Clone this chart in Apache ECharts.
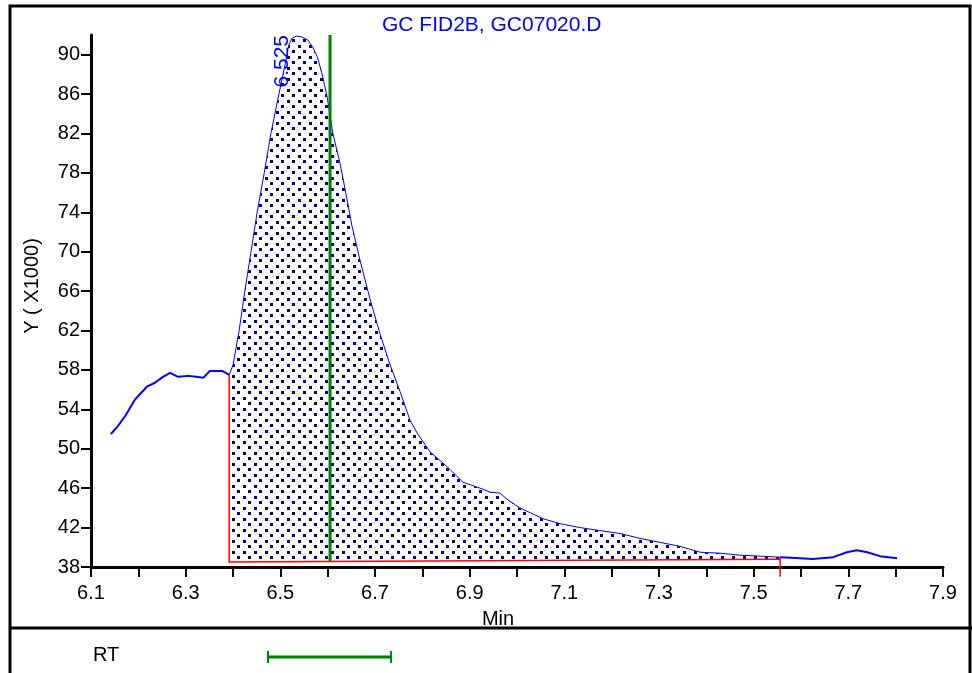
<!DOCTYPE html>
<html><head><meta charset="utf-8">
<script src="https://cdn.jsdelivr.net/npm/echarts@6/dist/echarts.min.js"></script>
<style>html,body{margin:0;padding:0;background:#fff}#c{width:972px;height:673px}</style>
</head><body><div id="c"></div>
<script>
// ---- data ----
const chartTitle = 'GC FID2B, GC07020.D';
const xName = 'Min';
const yName = 'Y ( X1000)';
const rtLabel = 'RT';
const peakLabel = '6.525';
const peakLabelTime = 6.525;
const xTickValues = [6.1,6.2,6.3,6.4,6.5,6.6,6.7,6.8,6.9,7.0,7.1,7.2,7.3,7.4,7.5,7.6,7.7,7.8,7.9];
const xLabelValues = [6.1,6.3,6.5,6.7,6.9,7.1,7.3,7.5,7.7,7.9];
const yLabelValues = [38,42,46,50,54,58,62,66,70,74,78,82,86,90];
const times = [6.142,6.155,6.172,6.193,6.218,6.235,6.252,6.267,6.284,6.305,6.322,6.337,6.351,6.377,6.392,
  6.400,6.413,6.425,6.438,6.451,6.466,6.480,6.497,6.510,6.518,6.525,6.535,6.545,6.558,6.568,6.578,6.588,6.599,
  6.611,6.626,6.637,6.651,6.668,6.690,6.711,6.732,6.753,6.774,6.789,6.816,6.852,6.886,6.922,6.943,6.964,6.981,
  7.006,7.055,7.091,7.133,7.175,7.218,7.260,7.302,7.344,7.387,7.429,7.471,7.514,7.556,7.598,7.625,7.668,7.697,
  7.718,7.740,7.767,7.803];
const signal = [51.5,52.2,53.3,55.0,56.3,56.7,57.3,57.7,57.3,57.4,57.3,57.2,57.9,57.9,57.5,
  58.5,62.0,66.0,70.0,74.0,78.0,82.0,86.0,89.0,91.0,91.7,91.9,91.8,91.5,90.8,89.8,88.1,85.7,
  82.0,79.0,76.3,72.7,69.2,65.1,61.6,58.5,55.8,52.9,51.6,49.7,48.2,46.6,46.0,45.6,45.5,44.8,
  44.0,42.9,42.4,42.0,41.7,41.4,40.9,40.5,40.1,39.5,39.4,39.2,39.1,39.0,38.9,38.8,39.0,39.5,
  39.7,39.5,39.1,38.9];
const integStart = 6.392, integEnd = 7.556;
const baselineStart = 38.5, baselineEnd = 38.78;
const endMarkBottom = 37.0;
const markerTime = 6.605;
const rtWindow = [6.474, 6.734];
const xMin = 6.1, xMax = 7.9, yMin = 38, yMax = 92;

// ---- helpers ----
const FONT = 'Liberation Sans, Arial, sans-serif';
const pairs = times.map((t, i) => [t, signal[i]]);
const eps = 1e-9;
const prePart = pairs.filter(p => p[0] <= integStart + eps);
const peakPart = pairs.filter(p => p[0] >= integStart - eps && p[0] <= integEnd + eps);
const postPart = pairs.filter(p => p[0] >= integEnd - eps);
function valueAt(t) {
  for (let i = 0; i < times.length - 1; i++) {
    if (t >= times[i] && t <= times[i + 1]) {
      const f = (t - times[i]) / (times[i + 1] - times[i]);
      return signal[i] + f * (signal[i + 1] - signal[i]);
    }
  }
  return signal[signal.length - 1];
}
function baselineAt(t) {
  return baselineStart + (t - integStart) / (integEnd - integStart) * (baselineEnd - baselineStart);
}
// dotted fill pattern
const pc = document.createElement('canvas');
pc.width = 11; pc.height = 11;
const pg = pc.getContext('2d');
pg.fillStyle = '#000080';
pg.fillRect(1, 1, 3, 3);
pg.fillRect(6, 6, 3, 3);

const chart = echarts.init(document.getElementById('c'), null, { renderer: 'canvas' });
chart.setOption({
  animation: false,
  backgroundColor: '#ffffff',
  title: {
    text: chartTitle, left: 377, top: 10,
    textStyle: { color: '#0000ff', fontSize: 21, fontWeight: 'normal', fontFamily: FONT }
  },
  grid: [
    { left: 91, right: 29, top: 35, bottom: 106, outerBoundsMode: 'none' },
    { left: 91, right: 29, top: 645, height: 24, outerBoundsMode: 'none' }
  ],
  xAxis: [{
    type: 'value', min: xMin, max: xMax, gridIndex: 0,
    name: xName, nameLocation: 'middle', nameGap: 42,
    nameTextStyle: { color: '#000', fontSize: 20, fontFamily: FONT, padding: [0, 38, 0, 0] },
    axisLine: { show: true, onZero: false, lineStyle: { color: '#000', width: 3 } },
    axisTick: { show: true, length: 10, lineStyle: { color: '#000', width: 2 }, customValues: xTickValues },
    axisLabel: { color: '#000', fontSize: 20, fontFamily: FONT, margin: 16, customValues: xLabelValues,
      formatter: v => Number(v).toFixed(1) },
    splitLine: { show: false }
  }, {
    type: 'value', min: xMin, max: xMax, gridIndex: 1, show: false
  }],
  yAxis: [{
    type: 'value', min: yMin, max: yMax, gridIndex: 0,
    name: yName, nameLocation: 'middle', nameGap: 49, nameRotate: 90,
    nameTextStyle: { color: '#000', fontSize: 20, fontFamily: FONT, padding: [0, 0, 0, 30] },
    axisLine: { show: true, onZero: false, lineStyle: { color: '#000', width: 3 } },
    axisTick: { show: true, length: 10, lineStyle: { color: '#000', width: 2 }, customValues: yLabelValues },
    axisLabel: { color: '#000', fontSize: 20, fontFamily: FONT, margin: 11, customValues: yLabelValues },
    splitLine: { show: false }
  }, {
    type: 'value', min: 0, max: 1, gridIndex: 1, show: false
  }],
  series: [
    {
      type: 'custom', name: 'area', z: 1, xAxisIndex: 0, yAxisIndex: 0,
      data: [[integStart, baselineStart]],
      renderItem: function (params, api) {
        const pts = peakPart.map(p => api.coord(p));
        pts.push(api.coord([integEnd, baselineEnd]));
        pts.push(api.coord([integStart, baselineStart]));
        return {
          type: 'polygon', shape: { points: pts },
          style: { fill: { image: pc, repeat: 'repeat' }, stroke: null }
        };
      }
    },
    { type: 'line', name: 'pre', data: prePart, showSymbol: false, z: 2,
      lineStyle: { color: '#0000ff', width: 2 } },
    { type: 'line', name: 'peak', data: peakPart, showSymbol: false, z: 2,
      lineStyle: { color: '#0000ff', width: 1 } },
    { type: 'line', name: 'post', data: postPart, showSymbol: false, z: 2,
      lineStyle: { color: '#0000ff', width: 2 } },
    {
      type: 'custom', name: 'marks', z: 3, xAxisIndex: 0, yAxisIndex: 0,
      data: [[markerTime, yMax]],
      renderItem: function (params, api) {
        const s0 = api.coord([integStart, valueAt(integStart)]);
        const b0 = api.coord([integStart, baselineStart]);
        const b1 = api.coord([integEnd, baselineEnd]);
        const e0 = api.coord([integEnd, valueAt(integEnd)]);
        const e1 = api.coord([integEnd, endMarkBottom]);
        const g0 = api.coord([markerTime, yMax]);
        const g1 = api.coord([markerTime, baselineAt(markerTime)]);
        const lp = api.coord([peakLabelTime, yMax]);
        return {
          type: 'group',
          children: [
            { type: 'polyline', shape: { points: [s0, b0, b1] },
              style: { stroke: '#ff0000', lineWidth: 1.5, fill: null } },
            { type: 'line', shape: { x1: e0[0], y1: e0[1], x2: e1[0], y2: e1[1] },
              style: { stroke: '#ff0000', lineWidth: 1.5 } },
            { type: 'line', shape: { x1: g0[0], y1: g0[1], x2: g1[0], y2: g1[1] },
              style: { stroke: '#008000', lineWidth: 3 } },
            { type: 'text', x: lp[0] + 1, y: lp[1], rotation: Math.PI / 2,
              style: { text: peakLabel, fill: '#0000ff', font: '21px ' + FONT,
                align: 'right', verticalAlign: 'bottom', textAlign: 'right', textVerticalAlign: 'bottom' } }
          ]
        };
      }
    },
    {
      type: 'custom', name: 'rt', xAxisIndex: 1, yAxisIndex: 1, z: 3,
      data: [[rtWindow[0], 0.5]],
      renderItem: function (params, api) {
        const p0 = api.coord([rtWindow[0], 0.5]);
        const p1 = api.coord([rtWindow[1], 0.5]);
        return {
          type: 'group',
          children: [
            { type: 'line', shape: { x1: p0[0], y1: p0[1], x2: p1[0], y2: p1[1] }, style: { stroke: '#008000', lineWidth: 3 } },
            { type: 'line', shape: { x1: p0[0], y1: p0[1] - 6, x2: p0[0], y2: p0[1] + 6 }, style: { stroke: '#008000', lineWidth: 2 } },
            { type: 'line', shape: { x1: p1[0], y1: p1[1] - 6, x2: p1[0], y2: p1[1] + 6 }, style: { stroke: '#008000', lineWidth: 2 } }
          ]
        };
      }
    }
  ],
  graphic: [
    { type: 'rect', shape: { x: 10, y: 6, width: 960, height: 700 },
      style: { fill: null, stroke: '#000', lineWidth: 3 }, silent: true },
    { type: 'line', shape: { x1: 10, y1: 628, x2: 972, y2: 628 },
      style: { stroke: '#000', lineWidth: 3 }, silent: true },
    { type: 'text', x: 93, y: 645,
      style: { text: rtLabel, fill: '#000', font: '20px ' + FONT } }
  ]
});
</script>
</body></html>
